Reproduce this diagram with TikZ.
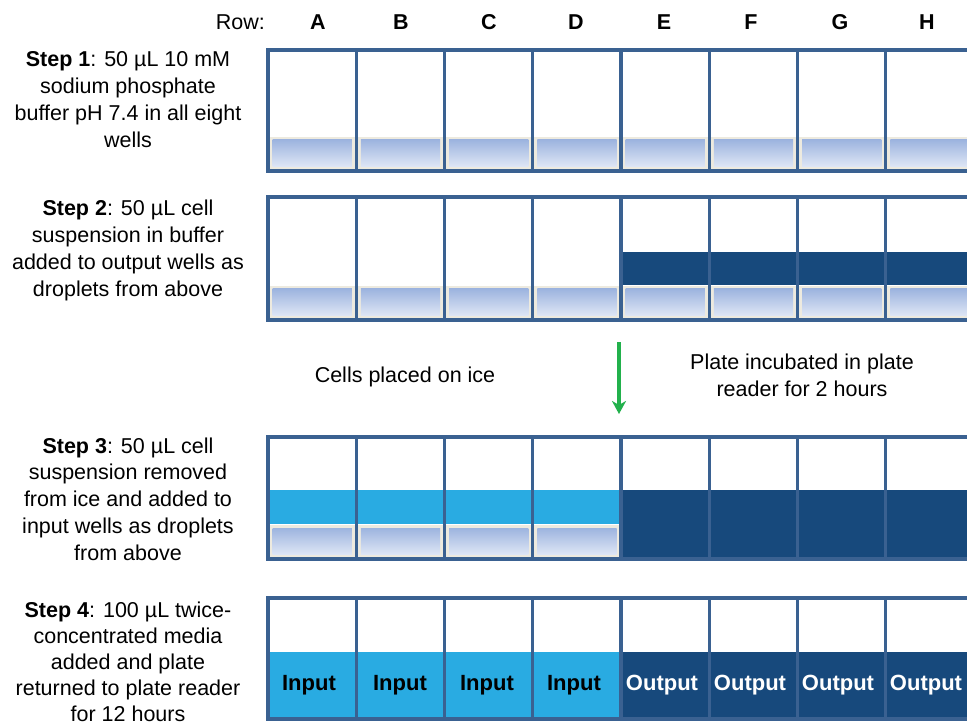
\documentclass[tikz,border=0pt]{standalone}
\usepackage{fontspec}
\setmainfont{Liberation Sans}
\usetikzlibrary{arrows.meta}
\definecolor{frame}{RGB}{58,97,145}
\definecolor{darkfill}{RGB}{23,73,124}
\definecolor{lightfill}{RGB}{41,171,226}
\definecolor{beige}{RGB}{237,234,223}
\definecolor{buftop}{RGB}{157,180,223}
\definecolor{bufbot}{RGB}{222,230,245}
\definecolor{arrowgreen}{RGB}{34,177,76}
\newcommand\wellbuffer[2]{%
  \fill[beige] ({268+88.25*#1+1.5},{#2-34}) rectangle ({268+88.25*(#1+1)-1.5},{#2-1.5});
  \shade[top color=buftop,bottom color=bufbot] ({268+88.25*#1+4.5},{#2-31}) rectangle ({268+88.25*(#1+1)-4.5},{#2-4.5});}
\newcommand\panelframe[2]{%
  \draw[frameline] (268,#1) -- (985,#1);
  \draw[frameline] (268,#2) -- (985,#2);
  \foreach \i in {0,...,7} {\draw[frameline] ({268+88.25*\i},#1) -- ({268+88.25*\i},#2);}}
\begin{document}
\begin{tikzpicture}[x=1pt,y=-1pt,
  frameline/.style={draw=frame,line width=3.4pt,line cap=rect},
  steptext/.style={align=center,inner sep=0pt,anchor=base,font=\fontsize{21.5}{27}\selectfont},
  midtext/.style={align=center,inner sep=0pt,anchor=base,font=\fontsize{21.5}{27}\selectfont},
  collabel/.style={inner sep=0pt,anchor=base,font=\fontsize{21.5}{27}\selectfont\bfseries},
  welllabel/.style={inner sep=0pt,anchor=base,font=\fontsize{22}{27}\selectfont\bfseries},
]
\useasboundingbox (0,0) rectangle (967,722);
\fill[white] (0,0) rectangle (967,722);

% column headers
\node[inner sep=0pt,anchor=base east,font=\fontsize{21.5}{27}\selectfont] (rowlbl) at (265,30) {Row:};
\node[collabel] (cA) at (318,30) {A};
\node[collabel] (cB) at (401,30) {B};
\node[collabel] (cC) at (489,30) {C};
\node[collabel] (cD) at (576,30) {D};
\node[collabel] (cE) at (664,30) {E};
\node[collabel] (cF) at (751,30) {F};
\node[collabel] (cG) at (840,30) {G};
\node[collabel] (cH) at (927,30) {H};

% step texts (base anchor = baseline of last line)
\node[steptext] (s1) at (128,148) {\textbf{Step 1}: 50 µL 10 mM\\sodium phosphate\\buffer pH 7.4 in all eight\\wells};
\node[steptext] (s2) at (128,296) {\textbf{Step 2}: 50 µL cell\\suspension in buffer\\added to output wells as\\droplets from above};
\node[steptext,font=\fontsize{21.5}{26.75}\selectfont] (s3) at (128,560) {\textbf{Step 3}: 50 µL cell\\suspension removed\\from ice and added to\\input wells as droplets\\from above};
\node[steptext,font=\fontsize{21.5}{26}\selectfont] (s4) at (128,721) {\textbf{Step 4}: 100 µL twice-\\concentrated media\\added and plate\\returned to plate reader\\for 12 hours};

% Panel 1
\foreach \i in {0,...,7} {\wellbuffer{\i}{171}}
\panelframe{50}{171}

% Panel 2
\foreach \i in {0,...,7} {\wellbuffer{\i}{320}}
\fill[darkfill] (621,252) rectangle (985,285);
\panelframe{197}{320}

% middle
\node[midtext] (ice) at (405,382) {Cells placed on ice};
\node[midtext] (incub) at (802,396) {Plate incubated in plate\\reader for 2 hours};
\coordinate (arrtop) at (619,342);
\coordinate (arrbot) at (619,414);
\draw[arrowgreen,line width=3.2pt,-{Stealth[length=13pt,width=14pt,inset=4pt]}] (arrtop) -- (arrbot);

% Panel 3
\fill[lightfill] (268,490) rectangle (621,524);
\foreach \i in {0,...,3} {\wellbuffer{\i}{559}}
\fill[darkfill] (621,490) rectangle (985,559);
\panelframe{437}{559}

% Panel 4
\fill[lightfill] (268,652) rectangle (621,719);
\fill[darkfill] (621,652) rectangle (985,719);
\panelframe{598}{719}
\node[welllabel] (iA) at (309,690) {Input};
\node[welllabel] (iB) at (400,690) {Input};
\node[welllabel] (iC) at (487,690) {Input};
\node[welllabel] (iD) at (574,690) {Input};
\node[welllabel,text=white] (oE) at (662,690) {Output};
\node[welllabel,text=white] (oF) at (750,690) {Output};
\node[welllabel,text=white] (oG) at (838,690) {Output};
\node[welllabel,text=white] (oH) at (926,690) {Output};
\end{tikzpicture}
\end{document}
